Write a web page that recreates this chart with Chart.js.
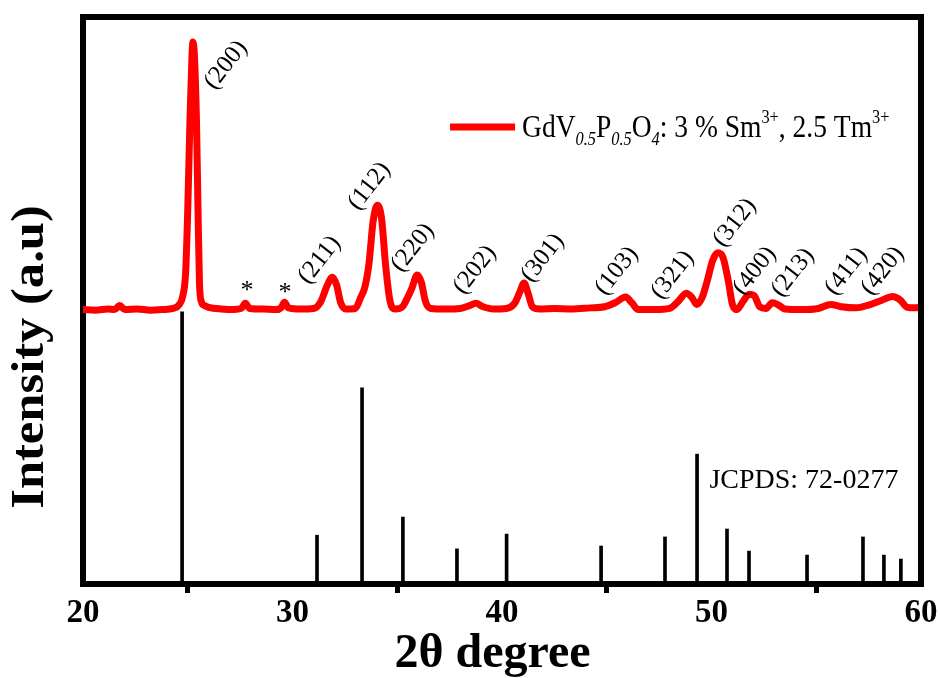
<!DOCTYPE html>
<html>
<head>
<meta charset="utf-8">
<script src="https://cdn.jsdelivr.net/npm/chart.js@4"></script>
<style>
  body { margin: 0; background: #fff; }
  canvas { display: block; }
</style>
</head>
<body>
<canvas id="xrdChart" width="940" height="678"></canvas>
<script>
// measured pattern (2theta, intensity in arbitrary units)
const twoTheta = [20.0, 20.6, 21.2, 21.5, 21.75, 22.0, 22.6, 23.2, 23.8, 24.3, 24.6, 24.75, 24.9, 25.0, 25.1, 25.2, 25.25, 25.32, 25.42, 25.49,
    25.56, 25.65, 25.8, 26.0, 26.6, 27.2, 27.55, 27.75, 27.95, 28.6, 29.2, 29.45, 29.62, 29.8, 30.4, 31.0, 31.35, 31.65, 31.9, 32.1,
    32.3, 32.55, 33.0, 33.25, 33.45, 33.65, 33.85, 34.05, 34.25, 34.45, 34.65, 34.9, 35.25, 35.45, 35.7, 35.95, 36.15, 36.35, 36.6, 37.3,
    38.0, 38.45, 38.75, 39.1, 39.6, 40.2, 40.6, 40.85, 41.05, 41.25, 41.45, 41.8, 42.5, 43.3, 44.2, 44.9, 45.4, 45.9, 46.2, 46.5,
    47.3, 48.0, 48.4, 48.8, 49.05, 49.3, 49.55, 49.8, 50.05, 50.3, 50.55, 50.8, 51.0, 51.2, 51.5, 51.8, 52.05, 52.3, 52.6, 52.9,
    53.2, 53.5, 54.3, 55.1, 55.7, 56.2, 56.9, 57.5, 58.1, 58.65, 59.0, 59.35, 59.7, 60.0];
const intensity = [48.4, 48.3, 48.5, 48.4, 49.1, 48.4, 48.5, 48.3, 48.4, 48.6, 49.3, 50.6, 55, 66, 81, 93, 95.6, 93, 81, 66,
    53, 49.8, 49.1, 48.8, 48.5, 48.4, 48.6, 49.5, 48.6, 48.5, 48.4, 48.7, 49.7, 48.7, 48.5, 48.6, 49.8, 52.6, 54.1, 52.8,
    49.6, 48.5, 48.6, 50.5, 52.3, 56.5, 64, 66.8, 64.5, 56, 50, 48.5, 48.9, 50.2, 52.2, 54.5, 53.2, 49.8, 48.6, 48.5,
    48.6, 49.1, 49.5, 48.9, 48.5, 48.6, 49.5, 51.5, 53.1, 51.2, 48.9, 48.5, 48.6, 48.5, 48.7, 48.9, 49.6, 50.6, 49.6, 48.4,
    48.4, 48.6, 49.8, 51.3, 50.6, 49.3, 50.5, 53.5, 57, 58.4, 57.6, 53.5, 49.3, 48.4, 49.8, 51.1, 50.8, 48.9, 48.6, 49.6,
    49.2, 48.5, 48.4, 48.6, 49.3, 48.9, 48.7, 49.2, 50.0, 50.7, 50.1, 48.8, 48.7, 48.8];

// JCPDS 72-0277 reference sticks
const refPos = [24.73, 31.17, 33.32, 35.27, 37.85, 40.22, 44.73, 47.78, 49.31, 50.74, 51.79, 54.56, 57.23, 58.23, 59.04];
const refInt = [48.0, 8.6, 34.6, 11.8, 6.2, 8.8, 6.7, 8.3, 22.9, 9.7, 5.8, 5.1, 8.3, 5.1, 4.4];

// Miller index labels
const hklLabels = ['(200)', '(211)', '(112)', '(220)', '(202)', '(301)', '(103)', '(321)', '(312)', '(400)', '(213)', '(411)', '(420)'];
const hklX = [26.5, 30.98, 33.36, 35.42, 38.38, 41.62, 45.15, 47.82, 50.79, 51.74, 53.56, 56.12, 57.85];
const hklY = [86.4, 52.1, 65.1, 54.2, 50.3, 52.4, 50.1, 49.4, 58.6, 50.1, 49.8, 50.1, 50.1];
const starX = [27.83, 29.64];
const starY = [51.6, 51.3];

const xTicks = [20, 30, 40, 50, 60];
const serif = '"Liberation Serif", "Times New Roman", serif';

const annotate = {
    id: 'annotate',
    afterDraw(chart) {
        const { ctx, chartArea: a, scales: { x, y } } = chart;
        ctx.save();
        // top and right frame
        ctx.strokeStyle = '#000';
        ctx.lineWidth = 6;
        ctx.beginPath();
        ctx.moveTo(a.left - 3, a.top);
        ctx.lineTo(a.right, a.top);
        ctx.lineTo(a.right, a.bottom + 3);
        ctx.stroke();
        // short minor ticks
        ctx.lineWidth = 4;
        for (let v = 25; v < 60; v += 10) {
            const px = x.getPixelForValue(v);
            ctx.beginPath();
            ctx.moveTo(px, a.bottom);
            ctx.lineTo(px, a.bottom + 6);
            ctx.stroke();
        }
        ctx.fillStyle = '#000';

        // y axis title (stretched like the original figure)
        ctx.save();
        ctx.translate(31, 357);
        ctx.rotate(-Math.PI / 2);
        ctx.scale(1.1, 1);
        ctx.font = 'bold 46px ' + serif;
        ctx.textAlign = 'center';
        ctx.textBaseline = 'middle';
        ctx.fillText('Intensity (a.u)', 0, 0);
        ctx.restore();

        // hkl labels
        ctx.font = '25px ' + serif;
        ctx.textAlign = 'left';
        ctx.textBaseline = 'bottom';
        hklLabels.forEach((t, i) => {
            ctx.save();
            ctx.translate(x.getPixelForValue(hklX[i]), y.getPixelForValue(hklY[i]));
            ctx.rotate(-52 * Math.PI / 180);
            ctx.fillText(t, 0, 0);
            ctx.restore();
        });
        ctx.textAlign = 'center';
        ctx.textBaseline = 'middle';
        ctx.font = '26px ' + serif;
        starX.forEach((sx, i) => ctx.fillText('*', x.getPixelForValue(sx), y.getPixelForValue(starY[i])));

        // JCPDS label
        ctx.textAlign = 'left';
        ctx.textBaseline = 'alphabetic';
        ctx.font = '28px ' + serif;
        ctx.fillText('JCPDS: 72-0277', x.getPixelForValue(49.9), y.getPixelForValue(16.9));

        // legend
        const lx = x.getPixelForValue(37.52), ly = y.getPixelForValue(80.6);
        ctx.strokeStyle = '#ff0000';
        ctx.lineWidth = 7;
        ctx.beginPath();
        ctx.moveTo(lx, ly);
        ctx.lineTo(lx + 65, ly);
        ctx.stroke();
        const parts = [
            ['GdV', 0, ''], ['0.5', 1, 'italic '], ['P', 0, ''], ['0.5', 1, 'italic '], ['O', 0, ''], ['4', 1, 'italic '],
            [': 3 % Sm', 0, ''], ['3+', -1, ''], [', 2.5 Tm', 0, ''], ['3+', -1, '']
        ];
        ctx.translate(lx + 72, ly + 10);
        ctx.scale(0.86, 1);
        let cx = 0;
        parts.forEach(([t, pos, style]) => {
            const size = pos === 0 ? 32 : 19;
            ctx.font = style + size + 'px ' + serif;
            const dy = pos === 1 ? 8 : pos === -1 ? -14 : 0;
            ctx.fillText(t, cx, dy);
            cx += ctx.measureText(t).width;
        });
        ctx.restore();

        // x axis title, centred where the original puts it
        ctx.save();
        ctx.font = 'bold 48px ' + serif;
        ctx.textAlign = 'center';
        ctx.textBaseline = 'alphabetic';
        ctx.fillText('2θ degree', x.getPixelForValue(39.55), 667);
        ctx.restore();
    }
};

new Chart(document.getElementById('xrdChart'), {
    type: 'line',
    data: {
        datasets: [
            {
                label: 'GdV0.5P0.5O4: 3 % Sm3+, 2.5 Tm3+',
                data: twoTheta.map((t, i) => ({ x: t, y: intensity[i] })),
                borderColor: '#ff0000',
                borderWidth: 7,
                borderJoinStyle: 'round',
                pointRadius: 0,
                cubicInterpolationMode: 'monotone',
                order: 0,
            },
            {
                type: 'bar',
                label: 'JCPDS: 72-0277',
                data: refPos.map((p, i) => ({ x: p, y: refInt[i] })),
                backgroundColor: '#000',
                barThickness: 3,
                grouped: false,
                order: 1,
            },
        ],
    },
    options: {
        responsive: false,
        devicePixelRatio: 1,
        animation: false,
        layout: { padding: { top: 17, right: 19, left: 0, bottom: 0 } },
        scales: {
            x: {
                type: 'linear',
                min: 20,
                max: 60,
                offset: false,
                afterBuildTicks: (scale) => { scale.ticks = xTicks.map((v) => ({ value: v })); },
                afterFit: (scale) => { scale.height = 94; },
                ticks: {
                    autoSkip: false,
                    maxRotation: 0,
                    color: '#000',
                    padding: 1,
                    font: { family: serif, size: 33, weight: 'bold' },
                },
                grid: { drawOnChartArea: false, tickLength: 9, tickWidth: 5, tickColor: '#000' },
                border: { display: true, width: 6, color: '#000' },
                title: { display: false, text: '2θ degree' },
            },
            y: {
                min: 0,
                max: 100,
                afterFit: (scale) => { scale.width = 83; },
                ticks: { display: false },
                grid: { drawOnChartArea: false, drawTicks: false },
                border: { display: true, width: 6, color: '#000' },
                title: { display: false, text: 'Intensity (a.u)' },
            },
        },
        plugins: {
            legend: { display: false },
            tooltip: { enabled: false },
        },
    },
    plugins: [annotate],
});
</script>
</body>
</html>
